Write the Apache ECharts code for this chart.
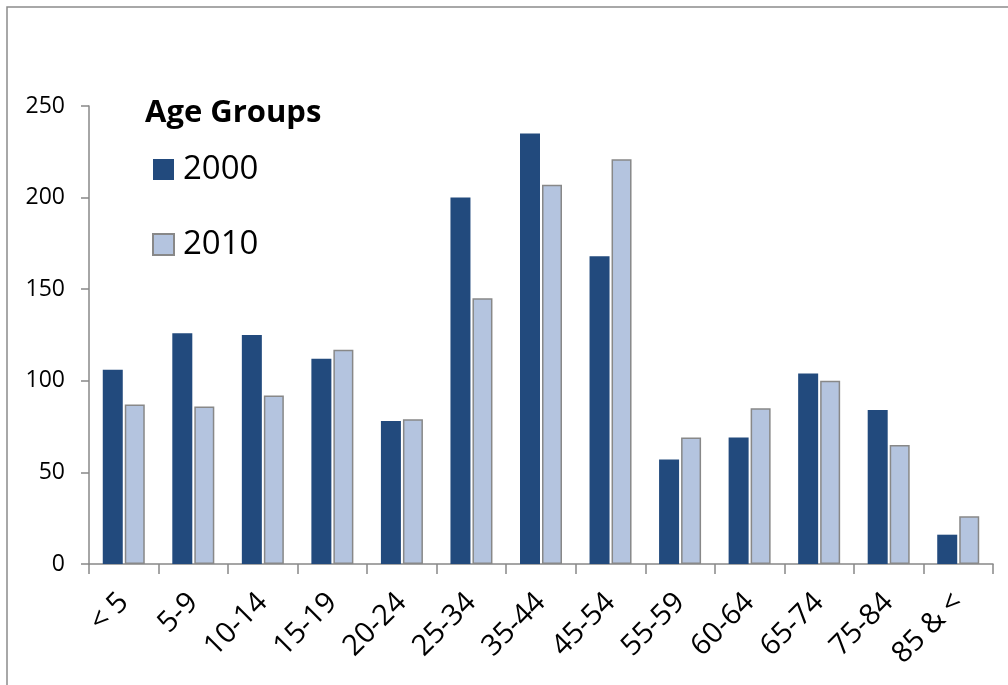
<!DOCTYPE html>
<html><head><meta charset="utf-8">
<script src="https://cdn.jsdelivr.net/npm/echarts@6/dist/echarts.min.js"></script>
<style>html,body{margin:0;padding:0;background:#fff}#c{width:1008px;height:685px}</style>
</head><body><div id="c"></div>
<script>
const categories = ['< 5','5-9','10-14','15-19','20-24','25-34','35-44','45-54','55-59','60-64','65-74','75-84','85 & <'];
const values2000 = [106,126,125,112,78,200,235,168,57,69,104,84,16];
const values2010 = [87,86,92,117,79,145,207,221,69,85,100,65,26];
const yTicks = [0,50,100,150,200,250];
const font = '"Open Sans", "Noto Sans", sans-serif';
const chart = echarts.init(document.getElementById('c'));
chart.setOption({
  animation:false,
  backgroundColor:'#fff',
  graphic:[{type:'rect',shape:{x:7,y:7,width:1010,height:700},style:{fill:'none',stroke:'#8c8c8c',lineWidth:1.5},silent:true}],
  title:{text:'Age Groups',left:140,top:93,textStyle:{fontFamily:font,fontSize:31,fontWeight:'bold',color:'#000'}},
  legend:{orient:'vertical',left:147,top:148,itemWidth:21,itemHeight:21,itemGap:42,icon:'rect',
    textStyle:{fontFamily:font,fontSize:33,lineHeight:21,color:'#000',padding:[0,0,0,4]},
    data:[{name:'2000',itemStyle:{borderWidth:0}},{name:'2010',itemStyle:{borderColor:'#888',borderWidth:2}}]},
  grid:{left:89,right:15,top:106,bottom:121,containLabel:false},
  xAxis:{type:'category',data:categories,
    axisLine:{lineStyle:{color:'#888',width:1.5}},
    axisTick:{show:true,length:10,lineStyle:{color:'#888',width:1.5}},
    axisLabel:{rotate:45,fontFamily:font,fontSize:29,color:'#000',margin:34,interval:0}},
  yAxis:{type:'value',min:yTicks[0],max:yTicks[yTicks.length-1],interval:50,
    splitLine:{show:false},
    axisLine:{show:true,lineStyle:{color:'#888',width:1.5}},
    axisTick:{show:true,length:8,lineStyle:{color:'#888',width:1.5}},
    axisLabel:{fontFamily:font,fontSize:23,color:'#000',margin:24}},
  series:[
    {name:'2000',type:'bar',data:values2000,barWidth:20,barGap:'10%',itemStyle:{color:'#224A7D'}},
    {name:'2010',type:'bar',data:values2010,barWidth:20,itemStyle:{color:'#B4C4DF',borderColor:'#888',borderWidth:1.5}}
  ]
});
</script></body></html>
